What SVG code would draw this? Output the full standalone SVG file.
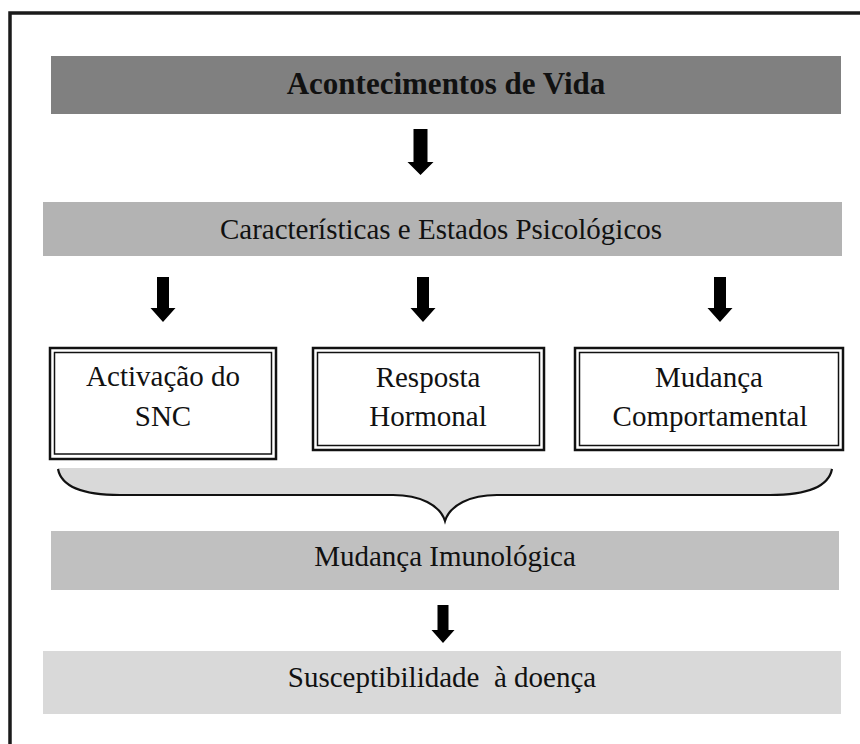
<svg xmlns="http://www.w3.org/2000/svg" width="860" height="744" viewBox="0 0 860 744">
<style>
.t{font-family:"Liberation Serif","Times New Roman",serif;font-size:29px;fill:#111;text-anchor:middle;white-space:pre}
.b{font-weight:bold;font-size:31px}
.ob{fill:#fff;stroke:#111;stroke-width:2.5}
.ib{fill:none;stroke:#111;stroke-width:1.5}
.arr{fill:#000}
</style>
<rect width="860" height="744" fill="#fff"/>
<rect x="10" y="13" width="900" height="800" fill="none" stroke="#1a1a1a" stroke-width="3.5"/>
<g id="acontecimentos">
<rect x="51" y="56" width="790" height="58" fill="#808080"/>
<text class="t b" x="446" y="94">Acontecimentos de Vida</text>
</g>
<g id="caracteristicas">
<rect x="43" y="202" width="799" height="54" fill="#b3b3b3"/>
<text class="t" x="441" y="239">Características e Estados Psicológicos</text>
</g>
<g id="snc">
<rect class="ob" x="50" y="348" width="226" height="111"/>
<rect class="ib" x="54.5" y="352.5" width="217" height="101.5"/>
<text class="t" x="163" y="386">Activação do</text>
<text class="t" x="163" y="426">SNC</text>
</g>
<g id="hormonal">
<rect class="ob" x="313" y="348" width="231" height="102"/>
<rect class="ib" x="317.5" y="352.5" width="222" height="93"/>
<text class="t" x="428" y="387">Resposta</text>
<text class="t" x="428" y="426">Hormonal</text>
</g>
<g id="comportamental">
<rect class="ob" x="575" y="348" width="268" height="102"/>
<rect class="ib" x="579.5" y="352.5" width="259" height="93"/>
<text class="t" x="709" y="387">Mudança</text>
<text class="t" x="710" y="426">Comportamental</text>
</g>
<g id="brace">
<path d="M58,468 L832,468 C828,490 800,495 770,495 L497,495 C470,495 450,505 445,521 C440,505 420,495 393,495 L120,495 C90,495 62,490 58,468 Z" fill="#d9d9d9"/>
<path d="M58,469 C62,490 90,495 120,495 L393,495 C420,495 440,505 445,521 C450,505 470,495 497,495 L770,495 C800,495 828,490 832,469" fill="none" stroke="#111" stroke-width="2.2"/>
</g>
<g id="imunologica">
<rect x="51" y="531" width="788" height="59" fill="#c0c0c0"/>
<text class="t" x="445" y="566">Mudança Imunológica</text>
</g>
<g id="susceptibilidade">
<rect x="43" y="651" width="798" height="63" fill="#d9d9d9"/>
<text class="t" x="442" y="687">Susceptibilidade  à doença</text>
</g>
<g id="connectors">
<path class="arr" d="M413.5,129 H427.5 V162 H433.5 L420.5,175 L407.5,162 H413.5 Z"/>
<path class="arr" d="M157,277 H169 V308 H175.5 L163,322 L150.5,308 H157 Z"/>
<path class="arr" d="M417,277 H429 V308 H435.5 L423,322 L410.5,308 H417 Z"/>
<path class="arr" d="M714,277 H726 V308 H732.5 L720,322 L707.5,308 H714 Z"/>
<path class="arr" d="M437.5,605 H448.5 V630 H454.5 L443,643 L431.5,630 H437.5 Z"/>
</g>
</svg>
